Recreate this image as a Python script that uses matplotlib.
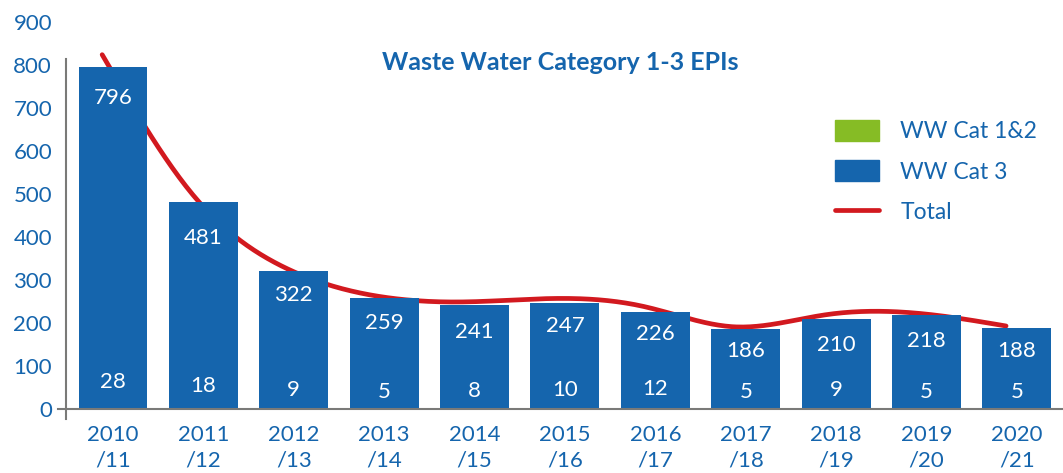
import numpy as np
import matplotlib
matplotlib.use('Agg')
import matplotlib.pyplot as plt
from matplotlib.patches import Patch
from matplotlib.lines import Line2D

plt.rcParams['font.family'] = ['Lato', 'DejaVu Sans']

years = ['2010\n/11', '2011\n/12', '2012\n/13', '2013\n/14', '2014\n/15', '2015\n/16',
         '2016\n/17', '2017\n/18', '2018\n/19', '2019\n/20', '2020\n/21']
cat12 = [28, 18, 9, 5, 8, 10, 12, 5, 9, 5, 5]
cat3 = [796, 481, 322, 259, 241, 247, 226, 186, 210, 218, 188]
total = [a + b for a, b in zip(cat12, cat3)]

BLUE = '#1565ad'
GREEN = '#86bc25'
RED = '#d2191f'
GRAY = '#7a7a78'

# how far below the bar top each Cat 3 label sits (pixels)
top_label_drop = [31, 36, 24, 25, 27, 23, 22, 22, 26, 26, 23]


def natural_spline(x, y, n=400):
    # natural cubic spline, only used to smooth the total line
    x = np.asarray(x, float)
    y = np.asarray(y, float)
    k = len(x)
    h = np.diff(x)
    A = np.zeros((k, k))
    r = np.zeros(k)
    A[0, 0] = A[-1, -1] = 1
    for i in range(1, k - 1):
        A[i, i - 1] = h[i - 1]
        A[i, i] = 2 * (h[i - 1] + h[i])
        A[i, i + 1] = h[i]
        r[i] = 3 * ((y[i + 1] - y[i]) / h[i] - (y[i] - y[i - 1]) / h[i - 1])
    c = np.linalg.solve(A, r)
    xs = np.linspace(x[0], x[-1], n)
    idx = np.clip(np.searchsorted(x, xs) - 1, 0, k - 2)
    dx = xs - x[idx]
    b = (y[idx + 1] - y[idx]) / h[idx] - h[idx] * (2 * c[idx] + c[idx + 1]) / 3
    d = (c[idx + 1] - c[idx]) / (3 * h[idx])
    return xs, y[idx] + b * dx + c[idx] * dx ** 2 + d * dx ** 3


fig = plt.figure(figsize=(10.63, 4.73), dpi=100)
ax = fig.add_axes([0.0621, 0.1126, 0.9379, 0.8409])

x = np.arange(len(years))
w = 0.763

# total line sits behind the bars
lx, ly = natural_spline(x - 0.12, total)
ax.plot(lx, ly, color=RED, lw=3.4, solid_capstyle='round', zorder=1)

ax.bar(x, cat12, width=w, color=GREEN, zorder=2)
ax.bar(x, cat3, width=w, color=BLUE, zorder=3)

for i in range(len(x)):
    ax.annotate(str(cat3[i]), (x[i], cat3[i]), xytext=(0, -top_label_drop[i] * 0.72),
                textcoords='offset points', ha='center', va='center',
                color='white', fontsize=16, zorder=5)
    ax.annotate(str(cat12[i]), (x[i], cat12[i]), xytext=(0, 15 * 0.72),
                textcoords='offset points', ha='center', va='center',
                color='white', fontsize=16, zorder=5)

ax.set_xlim(-0.52, 10.51)
ax.set_ylim(-25, 900)
ax.set_yticks(range(0, 901, 100))
ax.set_xticks(x)
ax.set_xticklabels(years, linespacing=1.3)
ax.tick_params(axis='both', length=0, labelsize=16, labelcolor=BLUE)
ax.tick_params(axis='y', pad=10)
ax.tick_params(axis='x', pad=4)

for s in ['top', 'right', 'bottom']:
    ax.spines[s].set_visible(False)
ax.spines['left'].set_color(GRAY)
ax.spines['left'].set_linewidth(1.5)
ax.spines['left'].set_bounds(-23, 813)
ax.plot([-0.61, 10.6], [0, 0], color=GRAY, lw=1.5, clip_on=False, zorder=4)

fig.text(560 / 1063, 1 - 63 / 473, 'Waste Water Category 1-3 EPIs', ha='center', va='center',
         color=BLUE, fontsize=18, fontweight='bold')

handles = [Patch(color=GREEN), Patch(color=BLUE), Line2D([], [], color=RED, lw=3.4, solid_capstyle='round')]
fig.legend(handles, ['WW Cat 1&2', 'WW Cat 3', 'Total'], loc='upper left',
           bbox_to_anchor=(835 / 1063, 1 - 120 / 473), frameon=False, fontsize=16.5,
           labelcolor=BLUE, handlelength=1.9, handleheight=1.0, handletextpad=0.95,
           labelspacing=0.8, borderpad=0, borderaxespad=0)

fig.savefig('out.png', dpi=100)
